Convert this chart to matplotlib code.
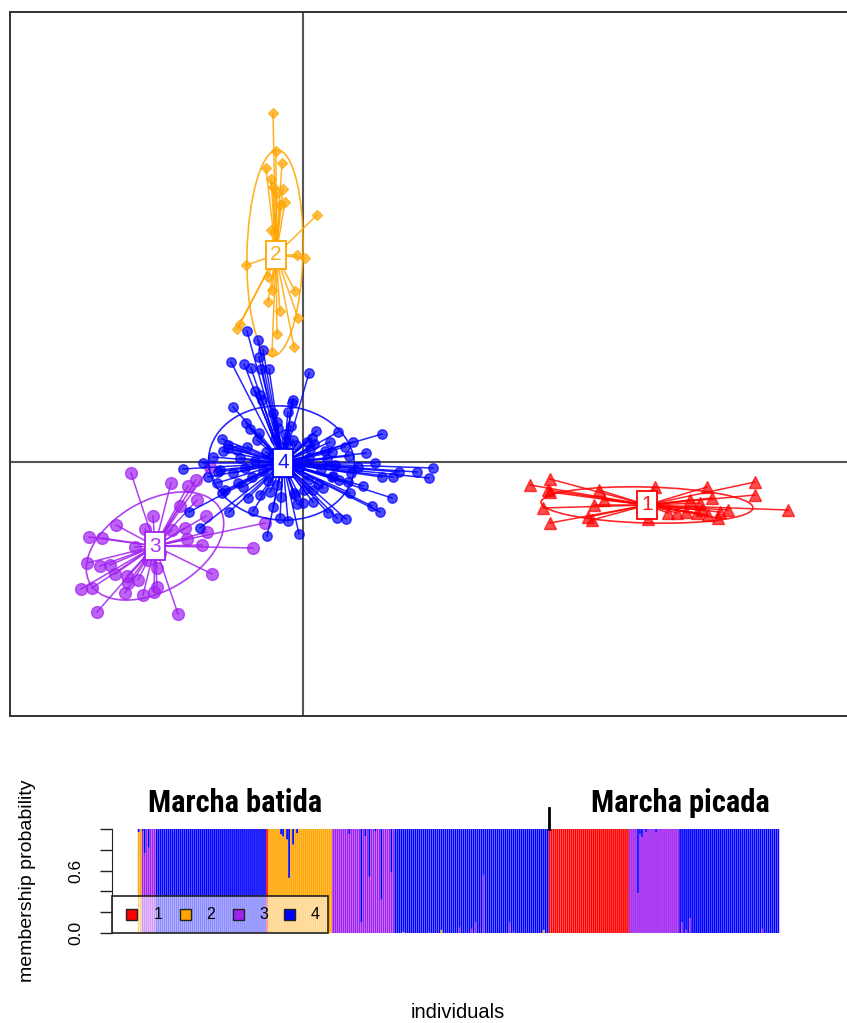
import numpy as np
import matplotlib
matplotlib.use("Agg")
import matplotlib.pyplot as plt
from matplotlib.patches import Ellipse, Rectangle
from matplotlib import font_manager

# ---------------- data: scatter (LD1, LD2) ----------------
c1_x = [4.54, 4.94, 4.90, 4.94, 4.80, 4.94, 5.70, 5.82, 5.92, 7.04, 6.90, 7.48, 7.30, 8.08, 9.04,
        9.04, 9.70, 7.94, 7.98, 8.30, 8.34, 7.88, 8.10, 7.74, 8.18, 8.50, 7.66, 5.78, 6.02]
c1_y = [-0.46, -0.34, -0.56, -0.60, -0.92, -1.22, -1.10, -0.86, -0.56, -0.50, -1.14, -1.02, -1.02, -0.50, -0.40,
        -0.66, -0.96, -0.82, -0.96, -1.12, -1.00, -1.02, -1.06, -0.76, -0.72, -0.96, -1.00, -1.16, -0.76]

c2_x = [-0.60, -0.54, -0.74, -0.42, -0.64, -0.60, -0.40, -0.52, -0.36, -0.46, 0.28, -0.64, -0.12,
        0.04, -1.14, -0.70, -0.62, -0.16, -0.70, -0.46, -0.10, -1.26, -1.32, -0.52, -0.18, -0.62]
c2_y = [6.98, 6.22, 5.88, 5.98, 5.66, 5.50, 5.46, 5.38, 5.20, 5.14, 4.94, 4.64, 4.14,
        4.08, 3.94, 3.70, 3.44, 3.42, 3.20, 3.02, 2.88, 2.76, 2.66, 2.56, 2.30, 2.20]

c3_x = [-3.44, -2.64, -2.30, -2.14, -1.86, -2.12, -3.00, -3.74, -3.16, -2.36, -1.94, -1.92, -4.28, -4.02,
        -2.32, -2.02, -1.00, -3.36, -4.32, -4.06, -3.86, -2.92, -1.82, -3.52, -3.30, -4.44, -4.22, -3.50,
        -2.92, -3.56, -3.20, -2.98, -4.12, -2.50, -0.76, -2.62, -2.86, -3.10, -3.76, -2.46]
c3_y = [-0.22, -0.42, -0.48, -0.36, -0.10, -0.76, -1.08, -1.26, -1.34, -1.32, -1.08, -1.40, -1.50, -1.52,
        -1.54, -1.66, -1.72, -1.70, -2.02, -2.08, -2.06, -2.12, -2.24, -2.28, -2.36, -2.54, -2.52, -2.42,
        -2.50, -2.62, -2.66, -2.60, -3.00, -3.04, -1.22, -1.36, -1.82, -1.96, -2.24, -0.88]

c4_x = [-1.44, -1.18, -1.04, -0.88, -0.84, -0.68, 0.12, -0.96, -0.86, -0.82, -0.20, -0.22, -1.40, -1.14,
        -1.06, -0.52, -0.50, -1.62, -1.50, -1.50, -1.32, -1.12, -0.92, -0.20, 0.08, 0.18, 0.22, 1.58,
        0.58, 0.92, 1.44, -2.40, -1.66, 2.60, 2.28, 1.92, 1.58, 2.52, 1.80, 0.58, 0.90, -1.72, -1.62,
        -1.20, -1.10, -0.86, -0.66, -0.16, 0.00, 0.20, 0.94, 1.38, 1.54, 1.78, -1.48, -2.28, -2.06,
        -0.60, -0.46, -0.30, -0.72, -0.08, 0.50, 0.68, 0.86, -1.12, -0.80, -0.90,
        -0.62, -0.40, -0.28, 0.36, 0.44, 0.10, -0.80, -0.96, 0.64, 0.26, -0.36, -0.70, 0.12, -0.14,
        0.72, -1.02, -0.52, 0.02, 0.40, -1.26, -0.24, 0.84, 1.10, 1.20, -1.40, -0.06, 0.54, -0.88,
        -0.44, 0.20, 1.00, -1.80, -1.70, -1.90, -2.00, -1.56, -1.00, 0.70, -0.60, -0.30,
        -1.16, -0.34, 0.30, 0.96, -0.74, 0.48, -1.30, -0.18, 1.26, -0.56, 0.14, -1.60, 0.60, -0.12]
c4_y = [2.00, 1.96, 1.88, 2.10, 1.86, 1.86, 1.78, 1.42, 1.34, 1.24, 1.24, 1.18, 1.10, 0.78,
        0.66, 0.80, 0.68, 0.46, 0.34, 0.28, 0.24, 0.30, 0.44, 0.44, 0.40, 0.48, 0.36, 0.56,
        0.20, 0.12, -0.02, -0.14, -0.16, -0.12, -0.20, -0.20, -0.30, -0.32, -0.30, -0.30, -0.40, -0.42, -0.62,
        -0.50, -0.72, -0.66, -0.60, -0.66, -0.82, -0.56, -0.62, -0.88, -1.00, -0.72, -1.00, -1.00, -1.32,
        -0.90, -1.12, -1.18, -1.48, -1.44, -1.02, -1.12, -1.14, 2.62, 2.24, 2.44,
        0.12, 0.30, -0.22, -0.14, 0.22, -0.36, -0.18, 0.02, -0.06, 0.62, 0.56, -0.38, 0.08, 0.34,
        -0.36, -0.30, -0.46, -0.56, -0.52, 0.08, 0.72, 0.30, -0.10, -0.48, -0.22, -0.10, 0.40, 0.58,
        -0.70, -0.80, 0.40, 0.10, -0.20, -0.30, -0.02, -0.56, -0.98, 0.60, 0.98, 1.00,
        -0.12, 0.42, -0.44, -0.22, 0.20, 0.06, -0.42, -0.62, 0.18, 0.46, 0.26, 0.22, -0.28, -0.84]

centers_x = [6.88, -0.54, -2.96, -0.40]
centers_y = [-0.86, 4.14, -1.68, -0.02]
# ellipses: center x, center y, half axes, angle (deg)
ell_cx = [6.88, -0.56, -2.96, -0.43]
ell_cy = [-0.86, 4.18, -1.68, -0.02]
ell_a = [2.12, 0.56, 1.50, 1.46]
ell_b = [0.36, 2.06, 0.90, 1.14]
ell_ang = [-1.5, -1.4, 30.0, -5.0]

cluster_labels = ["1", "2", "3", "4"]
cluster_colors = ["#FF0000", "#FFA500", "#A020F0", "#0000FF"]

# ---------------- data: membership probabilities ----------------
seg_cluster = [2, 3, 4, 1, 2, 3, 4, 1, 3, 4]
seg_count = [2, 7, 55, 1, 32, 31, 77, 40, 25, 50]
# mixed individuals: index -> (p1, p2, p3, p4)
mixed_idx = [0, 2, 3, 5, 71, 72, 74, 75, 77, 79,
             105, 111, 113, 115, 118, 121, 126,
             132, 145, 151, 160, 166, 168, 172, 185, 187, 202,
             249, 250, 251, 253, 258,
             271, 273, 275, 311]
mixed_p = [(0, .97, 0, .03), (0, 0, .98, .02), (0, 0, .77, .23), (0, 0, .82, .18),
           (0, .95, 0, .05), (0, .93, 0, .07), (0, .90, 0, .10), (0, .53, 0, .47), (0, .85, 0, .15), (0, .96, 0, .04),
           (0, 0, .95, .05), (0, 0, .10, .90), (0, 0, .93, .07), (0, 0, .54, .46), (0, 0, .98, .02),
           (0, 0, .32, .68), (0, 0, .58, .42),
           (0, .01, 0, .99), (0, 0, .01, .99), (0, .03, 0, .97), (0, 0, .05, .95), (0, 0, .04, .96),
           (0, 0, .10, .90), (0, 0, .56, .44), (0, 0, .10, .90), (0, 0, .01, .99), (0, .03, 0, .97),
           (0, 0, .38, .62), (0, 0, .95, .05), (0, 0, .92, .08), (0, 0, .97, .03), (0, 0, .97, .03),
           (0, 0, .10, .90), (0, 0, .03, .97), (0, 0, .14, .86), (0, 0, .04, .96)]
group_names = ["Marcha batida", "Marcha picada"]
group_split = 204.5
yticks = [0.0, 0.2, 0.4, 0.6, 0.8, 1.0]
ytick_labels = ["0.0", "", "", "0.6", "", ""]

# ---------------- figure ----------------
W, H = 847, 1023
fig = plt.figure(figsize=(W / 100, H / 100), dpi=100)
SANS = ["Liberation Sans", "DejaVu Sans"]

def fbox(l, t, r, b):
    return [l / W, 1 - b / H, (r - l) / W, (b - t) / H]

# ---- top scatter ----
ax = fig.add_axes(fbox(10, 12, 880, 716))
ax.set_xlim(-5.86, 11.54)
ax.set_ylim(-5.08, 9.0)
ax.set_xticks([]); ax.set_yticks([])
for s in ax.spines.values():
    s.set_linewidth(1.4)
    s.set_color("#333333")
ax.axvline(0, color="#555555", lw=1.5, zorder=1)
ax.axhline(0, color="#555555", lw=1.5, zorder=1)

xs = [c1_x, c2_x, c3_x, c4_x]
ys = [c1_y, c2_y, c3_y, c4_y]
markers = ["^", "D", "o", "o"]
msizes = [9, 5.5, 8.5, 6.8]
for k in range(4):
    col = cluster_colors[k]
    cx, cy = centers_x[k], centers_y[k]
    for px, py in zip(xs[k], ys[k]):
        ax.plot([cx, px], [cy, py], color=col, lw=1.1, alpha=0.85, zorder=2 + k)
    ax.plot(xs[k], ys[k], ls="none", marker=markers[k], ms=msizes[k], color=col,
            mec=col, alpha=0.7, zorder=2 + k)
    e = Ellipse((ell_cx[k], ell_cy[k]), 2 * ell_a[k], 2 * ell_b[k], angle=ell_ang[k],
                fill=False, ec=col, lw=1.2, alpha=0.85, zorder=2 + k)
    ax.add_patch(e)
for k in range(4):
    col = cluster_colors[k]
    ax.text(centers_x[k], centers_y[k], cluster_labels[k], color=col, ha="center", va="center",
            fontsize=15, family=SANS, zorder=10, alpha=0.9,
            bbox=dict(boxstyle="square,pad=0.22", fc="white", ec=col, lw=1.3))

# ---- compoplot ----
assign = np.concatenate([np.full(n, c) for c, n in zip(seg_cluster, seg_count)])
N = len(assign)
P = np.zeros((N, 4))
P[np.arange(N), assign - 1] = 1.0
for i, p in zip(mixed_idx, mixed_p):
    P[i] = p

bx = fig.add_axes(fbox(112, 829, 805, 933))
rng = N
bx.set_xlim(-0.5 - 0.04 * rng, N - 0.5 + 0.04 * rng)
bx.set_ylim(0, 1)
idx = np.arange(N)
bottom = np.zeros(N)
for k in range(4):
    bars = bx.bar(idx, P[:, k], bottom=bottom, width=0.86, color=cluster_colors[k], lw=0)
    for b in bars:
        b.set_snap(False)
    bottom += P[:, k]
for s in ["top", "right", "bottom"]:
    bx.spines[s].set_visible(False)
bx.spines["left"].set_bounds(0, 1)
bx.spines["left"].set_color("#222222")
bx.set_xticks([])
bx.set_yticks(yticks)
bx.set_yticklabels(ytick_labels, rotation=90, va="center", family=SANS, fontsize=12.5)
bx.tick_params(axis="y", length=8.6, width=1, color="#222222", pad=12)

# legend (manual, semi-transparent)
bx.add_patch(Rectangle((0, 0), 0.3117, 0.356, transform=bx.transAxes, fc=(1, 1, 1, 0.55),
                       ec="#222222", lw=1.2, zorder=5, clip_on=False))
sq_x = [131, 185, 238, 289]
lab_x = [158, 211, 264, 315]
for k in range(4):
    x0 = (sq_x[k] - 112 - 5.5) / 693
    bx.add_patch(Rectangle((x0, (933 - 920) / 104), 11 / 693, 11 / 104, transform=bx.transAxes,
                           fc=cluster_colors[k], ec="#222222", lw=1, zorder=6, clip_on=False))
    bx.text((lab_x[k] - 112) / 693, (933 - 914.5) / 104, cluster_labels[k], transform=bx.transAxes,
            ha="center", va="center", fontsize=11.5, family=SANS, zorder=7)

# group separator and names
bx.plot([group_split, group_split], [1.0, 1.2], color="black", lw=2, clip_on=False)

cond_font = None
for fam in ["Roboto Condensed", "Liberation Sans Narrow", "Arial Narrow"]:
    try:
        font_manager.findfont(font_manager.FontProperties(family=fam), fallback_to_default=False)
        cond_font = fam
        break
    except Exception:
        pass
if cond_font is not None:
    BOLD, bsize = [cond_font, "DejaVu Sans"], 22
else:
    BOLD, bsize = ["Roboto", "DejaVu Sans"], 19.3
fig.text(148 / W, 1 - 812 / H, group_names[0], ha="left", va="baseline", fontsize=bsize,
         fontweight="bold", family=BOLD)
fig.text(591 / W, 1 - 812 / H, group_names[1], ha="left", va="baseline", fontsize=bsize,
         fontweight="bold", family=BOLD)

fig.text(28 / W, 1 - 881 / H, "membership probability", rotation=90, ha="center", va="center",
         fontsize=14, family=SANS)
fig.text(458 / W, 1 - 1012 / H, "individuals", ha="center", va="center", fontsize=14.5, family=SANS)

fig.savefig("out.png", dpi=100)
